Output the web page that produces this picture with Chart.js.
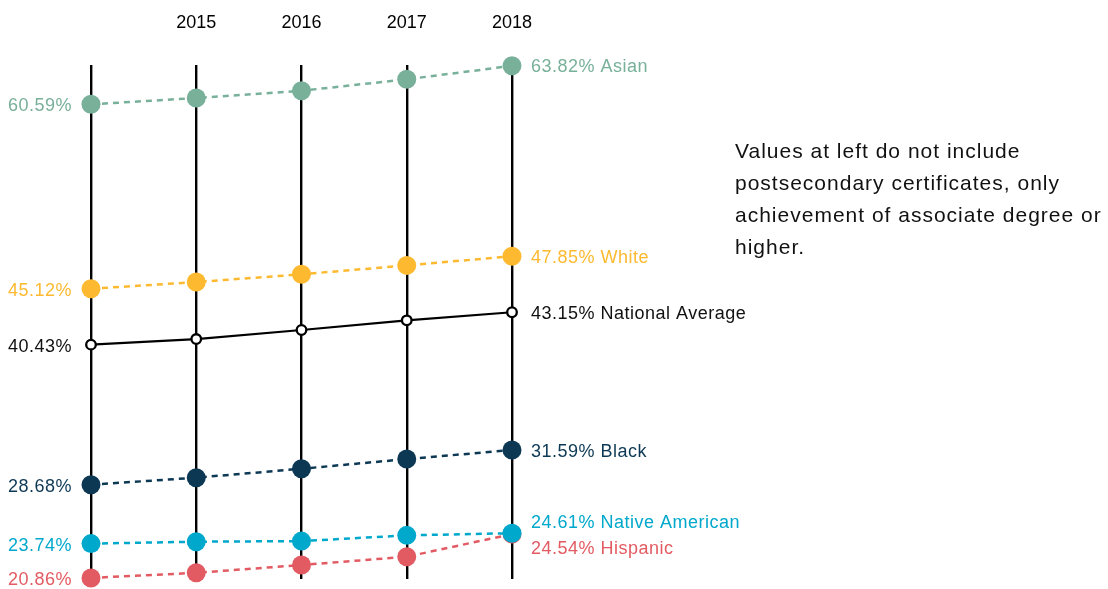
<!DOCTYPE html>
<html>
<head>
<meta charset="utf-8">
<script src="https://cdn.jsdelivr.net/npm/chart.js@4"></script>
<style>
  body { margin: 0; background: #fff; }
  #wrap { position: relative; width: 1108px; height: 589px; }
  #note {
    position: absolute; left: 735px; top: 135px;
    font: 21px "Liberation Sans", Arial, sans-serif; line-height: 32px;
    letter-spacing: 1px;
    color: #111; white-space: nowrap;
  }
</style>
</head>
<body>
<div id="wrap">
  <canvas id="grafico"></canvas>
  <div id="note"></div>
</div>
<script>
// dados (percentual com grau associado ou superior)
const years = ["2014", "2015", "2016", "2017", "2018"];
const yearLabels = ["", "2015", "2016", "2017", "2018"];

const asian = [60.59, 61.12, 61.73, 62.69, 63.82];
const white = [45.12, 45.68, 46.33, 47.08, 47.85];
const nationalAverage = [40.43, 40.90, 41.66, 42.47, 43.15];
const black = [28.68, 29.27, 30.02, 30.83, 31.59];
const nativeAmerican = [23.74, 23.90, 23.95, 24.43, 24.61];
const hispanic = [20.86, 21.29, 21.94, 22.64, 24.54];

const groupNames = ["Asian", "White", "National Average", "Black", "Native American", "Hispanic"];

const noteLines = [
  "Values at left do not include",
  "postsecondary certificates, only",
  "achievement of associate degree or",
  "higher."
];

// estilos
const colors = ["#78B09A", "#FDBA31", "#000000", "#0C3854", "#00A8CC", "#E25B62"];
const rightLabelShift = [1, 2, 2, 2, -10, 15];
const FONT = '"Liberation Sans", Arial, sans-serif';

document.getElementById("note").innerHTML = noteLines.join("<br>");

const series = [asian, white, nationalAverage, black, nativeAmerican, hispanic];

const datasets = series.map((values, i) => {
  const isAvg = groupNames[i] === "National Average";
  return {
    label: groupNames[i],
    data: values,
    borderColor: colors[i],
    backgroundColor: isAvg ? "#ffffff" : colors[i],
    pointBorderColor: colors[i],
    borderWidth: isAvg ? 2.2 : 2.5,
    borderDash: isAvg ? [] : [6, 5],
    pointRadius: isAvg ? 4.8 : 9.5,
    pointBorderWidth: isAvg ? 2.3 : 0,
    pointHoverRadius: isAvg ? 4.8 : 9.5,
    tension: 0,
    clip: false
  };
});

// rótulos de valor nas pontas
const endLabels = {
  id: "endLabels",
  afterDatasetsDraw(chart) {
    const ctx = chart.ctx;
    ctx.save();
    ctx.font = "18px " + FONT;
    ctx.letterSpacing = "0.5px";
    ctx.textBaseline = "middle";
    chart.data.datasets.forEach((ds, i) => {
      const pts = chart.getDatasetMeta(i).data;
      const first = pts[0];
      const last = pts[pts.length - 1];
      ctx.fillStyle = colors[i] === "#000000" ? "#111" : colors[i];
      ctx.textAlign = "right";
      ctx.fillText(ds.data[0].toFixed(2) + "%", first.x - 19, first.y + 2);
      ctx.textAlign = "left";
      ctx.fillText(ds.data[ds.data.length - 1].toFixed(2) + "% " + ds.label,
        last.x + 19, last.y + rightLabelShift[i]);
    });
    ctx.restore();
  }
};

const canvas = document.getElementById("grafico");

new Chart(canvas, {
  type: "line",
  data: { labels: years, datasets: datasets },
  options: {
    responsive: true,
    maintainAspectRatio: false,
    animation: false,
    layout: { padding: { left: 91, right: 596, top: 0, bottom: 10 } },
    plugins: { legend: { display: false }, tooltip: { enabled: false } },
    scales: {
      x: {
        position: "top",
        offset: false,
        afterFit: (scale) => { scale.height = 65; },
        border: { display: false },
        grid: { color: "#000", lineWidth: 2.4, drawTicks: false },
        ticks: {
          padding: 31,
          color: "#000",
          font: { size: 18, family: FONT },
          maxRotation: 0,
          autoSkip: false,
          callback: (v, i) => yearLabels[i]
        }
      },
      y: {
        display: false,
        min: 20.77,
        max: 63.89
      }
    }
  },
  plugins: [endLabels]
});
</script>
</body>
</html>
